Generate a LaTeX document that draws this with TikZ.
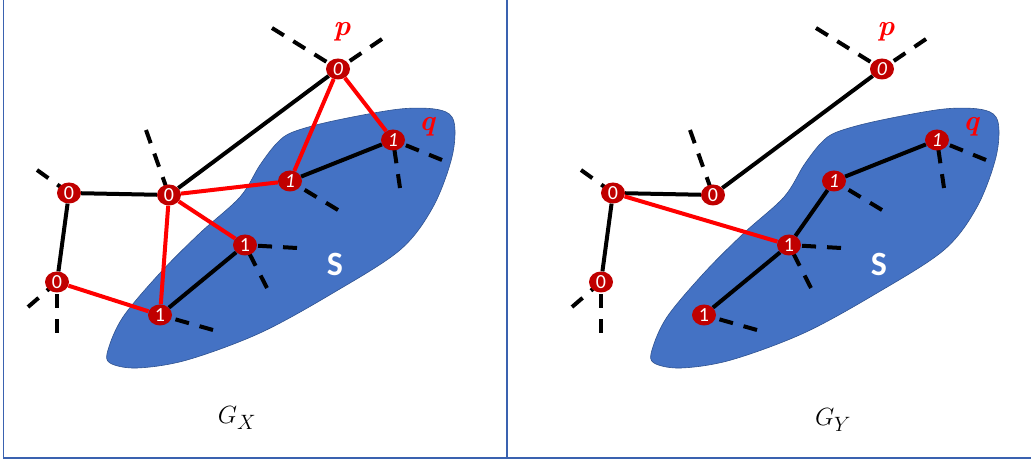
\documentclass[tikz,border=0pt]{standalone}
\usepackage{fontspec}
\newfontfamily\calibri{Carlito}
\usepackage{tikz}
\usetikzlibrary{shapes.geometric}

\definecolor{blobblue}{HTML}{4472C4}
\definecolor{blobedge}{HTML}{2F528F}
\definecolor{nodered}{HTML}{C00000}
\definecolor{framebl}{HTML}{3A62B0}

\pgfdeclarelayer{back}
\pgfdeclarelayer{mid}
\pgfsetlayers{back,mid,main}

\begin{document}
\begin{tikzpicture}[
  x=1pt, y=-1pt,
  vx/.style={ellipse, fill=nodered, text=white, minimum width=24pt, minimum height=21pt, inner sep=0pt, font=\calibri\fontsize{20}{20}\selectfont},
  vi/.style={vx, font=\calibri\fontsize{20}{20}\selectfont\itshape},
  edge/.style={line width=4pt},
  redge/.style={edge, red},
  stub/.style={line width=4pt, dash pattern=on 14pt off 11pt},
  lab/.style={text=red, font=\fontsize{29}{29}\selectfont\bfseries\itshape}
]
\useasboundingbox (0,0) rectangle (1031,462);
% frame
\draw[framebl, line width=1.6pt] (3.5,0) -- (3.5,458) -- (1031,458);
\draw[framebl, line width=1.6pt] (507,0) -- (507,458);

\foreach \g/\dx in {x/0, y/544} {
  \begin{scope}[xshift=\dx]
    % the set S
    \begin{pgfonlayer}{back}
    \draw[blobedge, fill=blobblue, line width=0.6pt] plot[smooth cycle, tension=0.55] coordinates {
      (277,143) (293,132) (333,121) (400,109) (440,110) (454,122) (452,157)
      (433,207) (400,250) (333,293) (260,333) (187,360) (137,368) (110,363)
      (108,350) (123,317) (160,273) (200,233) (240,197) (260,165)};
    \end{pgfonlayer}
    \node[text=white, font=\calibri\fontsize{34}{34}\selectfont\bfseries] (\g-s) at (335,264) {S};
    % vertices
    \node[vi] (\g-p) at (338,69) {0};
    \node[vi] (\g-q) at (393,140) {1};
    \node[vi] (\g-u) at (290,181) {1};
    \node[vx] (\g-m) at (245,245) {1};
    \node[vx] (\g-b) at (160,315) {1};
    \node[vx] (\g-c) at (169,195) {0};
    \node[vx] (\g-l) at (69,193) {0};
    \node[vx] (\g-w) at (57,282) {0};
    \node[lab] (\g-pl) at (342,32) {p};
    \node[lab] (\g-ql) at (427,127) {q};
    % half edges, drawn from the loose end in
    \begin{pgfonlayer}{mid}
    \draw[stub] (\g-p.center) ++(-66,-41) -- (\g-p.center);
    \draw[stub] (\g-p.center) ++(44,-30) -- (\g-p.center);
    \draw[stub] (\g-c.center) ++(-23,-65) -- (\g-c.center);
    \draw[stub] (\g-l.center) ++(-32,-23) -- (\g-l.center);
    \draw[stub] (\g-w.center) ++(-29,25) -- (\g-w.center);
    \draw[stub] (\g-w.center) ++(0,51) -- (\g-w.center);
    \draw[stub] (\g-b.center) ++(53,15) -- (\g-b.center);
    \draw[stub] (\g-m.center) ++(52,3) -- (\g-m.center);
    \draw[stub] (\g-m.center) ++(22,43) -- (\g-m.center);
    \draw[stub] (\g-u.center) ++(48,29) -- (\g-u.center);
    \draw[stub] (\g-q.center) ++(49,20) -- (\g-q.center);
    \draw[stub] (\g-q.center) ++(7,48) -- (\g-q.center);
    \end{pgfonlayer}
    % common edges
    \draw[edge] (\g-p) -- (\g-c);
    \draw[edge] (\g-l) -- (\g-c);
    \draw[edge] (\g-l) -- (\g-w);
    \draw[edge] (\g-b) -- (\g-m);
    \draw[edge] (\g-u) -- (\g-q);
  \end{scope}
}

% G_X
\draw[redge] (x-p) -- (x-u);
\draw[redge] (x-p) -- (x-q);
\draw[redge] (x-c) -- (x-u);
\draw[redge] (x-c) -- (x-m);
\draw[redge] (x-c) -- (x-b);
\draw[redge] (x-w) -- (x-b);
% G_Y
\draw[redge] (y-l) -- (y-m);
\draw[edge] (y-m) -- (y-u);

\node[font=\fontsize{32}{32}\selectfont] (gx) at (237,418) {$G_X$};
\node[font=\fontsize{32}{32}\selectfont] (gy) at (833,420) {$G_Y$};
\end{tikzpicture}
\end{document}
